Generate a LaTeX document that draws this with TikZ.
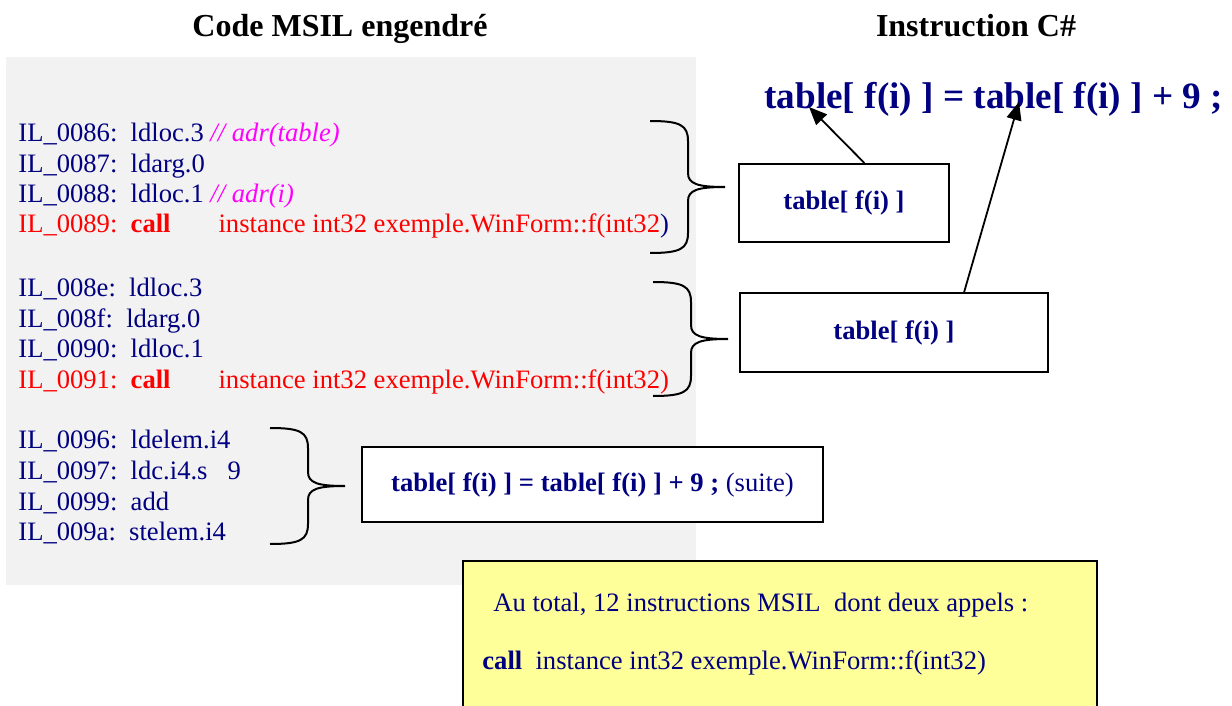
\documentclass[tikz,border=0pt]{standalone}
\usepackage{fontspec}
\setmainfont{Liberation Serif}
\usetikzlibrary{arrows.meta}

\definecolor{ilblue}{HTML}{000080}
\definecolor{ilred}{HTML}{FF0000}
\definecolor{ilpink}{HTML}{FF00FF}
\definecolor{codegray}{HTML}{F2F2F2}
\definecolor{noteyellow}{HTML}{FFFF99}

\begin{document}
\begin{tikzpicture}[x=0.5pt,y=-0.5pt,
  title/.style={anchor=base,font=\fontsize{16}{19}\selectfont\bfseries},
  il/.style={anchor=base west,inner sep=0pt,font=\fontsize{13.3}{16}\selectfont,text=ilblue},
  ilcall/.style={il,text=ilred},
  cbox/.style={draw,fill=white,line width=1pt,text=ilblue,font=\fontsize{13.3}{16}\selectfont\bfseries},
  brc/.style={line width=1pt},
  arr/.style={line width=0.9pt,-{Triangle[length=9pt,width=7.5pt]}}]
\useasboundingbox (0,0) rectangle (1232,706);

\node[title] (msil) at (340,37) {Code MSIL engendré};
\node[title] (csharp) at (976,37) {Instruction C\#};

\fill[codegray] (6,57) rectangle (696,585);

% instruction C#
\node[anchor=base west,inner sep=0pt,text=ilblue,font=\fontsize{18.6}{22}\selectfont\bfseries]
  (instr) at (764,109) {table[ f(i) ] = table[ f(i) ] + 9 ;};
\coordinate (lhs) at (809,107);
\coordinate (rhs) at (1019,102);

% premier appel
\node[il] (l86) at (18,141) {IL\_0086:\ \ ldloc.3 \textcolor{ilpink}{\textit{// adr(table)}}};
\node[il] (l87) at (18,172) {IL\_0087:\ \ ldarg.0};
\node[il] (l88) at (18,202) {IL\_0088:\ \ ldloc.1 \textcolor{ilpink}{\textit{// adr(i)}}};
\node[ilcall] (l89) at (18,233) {IL\_0089:\ \ \textbf{call}\hspace{24pt}instance int32 exemple.WinForm::f(int32\textcolor{ilblue}{)}};

% second appel
\node[il] (l8e) at (18,296) {IL\_008e:\ \ ldloc.3};
\node[il] (l8f) at (18,327) {IL\_008f:\ \ ldarg.0};
\node[il] (l90) at (18,357) {IL\_0090:\ \ ldloc.1};
\node[ilcall] (l91) at (18,388) {IL\_0091:\ \ \textbf{call}\hspace{24pt}instance int32 exemple.WinForm::f(int32)};

% affectation
\node[il] (l96) at (18,448) {IL\_0096:\ \ ldelem.i4};
\node[il] (l97) at (18,479) {IL\_0097:\ \ ldc.i4.s\hspace{10pt}9};
\node[il] (l99) at (18,510) {IL\_0099:\ \ add};
\node[il] (l9a) at (18,540) {IL\_009a:\ \ stelem.i4};

\node[cbox,minimum width=105pt,minimum height=39pt] (box1) at (844,203) {table[ f(i) ]};
\node[cbox,minimum width=154pt,minimum height=39.5pt] (box2) at (894,332.5) {table[ f(i) ]};
\node[cbox,minimum width=230.5pt,minimum height=37.5pt] (box3) at (592.5,484.5)
  {table[ f(i) ] = table[ f(i) ] + 9 ; \textmd{(suite)}};

\draw[arr] (box1.63) -- (lhs);
\draw[arr] (box2.30.5) -- (rhs);

\draw[brc] (650,121) .. controls (680,121) and (688,125) .. (688,141) -- (688,173)
  .. controls (688,184) and (698,187) .. (725,187)
  .. controls (698,187) and (688,190) .. (688,201) -- (688,233)
  .. controls (688,249) and (680,253) .. (650,253);
\draw[brc] (653,282) .. controls (683,282) and (691,286) .. (691,302) -- (691,325)
  .. controls (691,336) and (701,339) .. (728,339)
  .. controls (701,339) and (691,342) .. (691,353) -- (691,376)
  .. controls (691,392) and (683,396) .. (653,396);
\draw[brc] (270,428) .. controls (300,428) and (308,432) .. (308,448) -- (308,472)
  .. controls (308,483) and (318,486) .. (345,486)
  .. controls (318,486) and (308,489) .. (308,500) -- (308,524)
  .. controls (308,540) and (300,544) .. (270,544);

% bilan
\node[draw,line width=1pt,fill=noteyellow,anchor=north west,minimum width=317pt,minimum height=85pt]
  (note) at (462,560) {};
\node[il] (total) at (493,611) {Au total, 12 instructions MSIL\ \ dont deux appels :};
\node[il] (appel) at (482,669) {\textbf{call}\ \ instance int32 exemple.WinForm::f(int32)};
\end{tikzpicture}
\end{document}
